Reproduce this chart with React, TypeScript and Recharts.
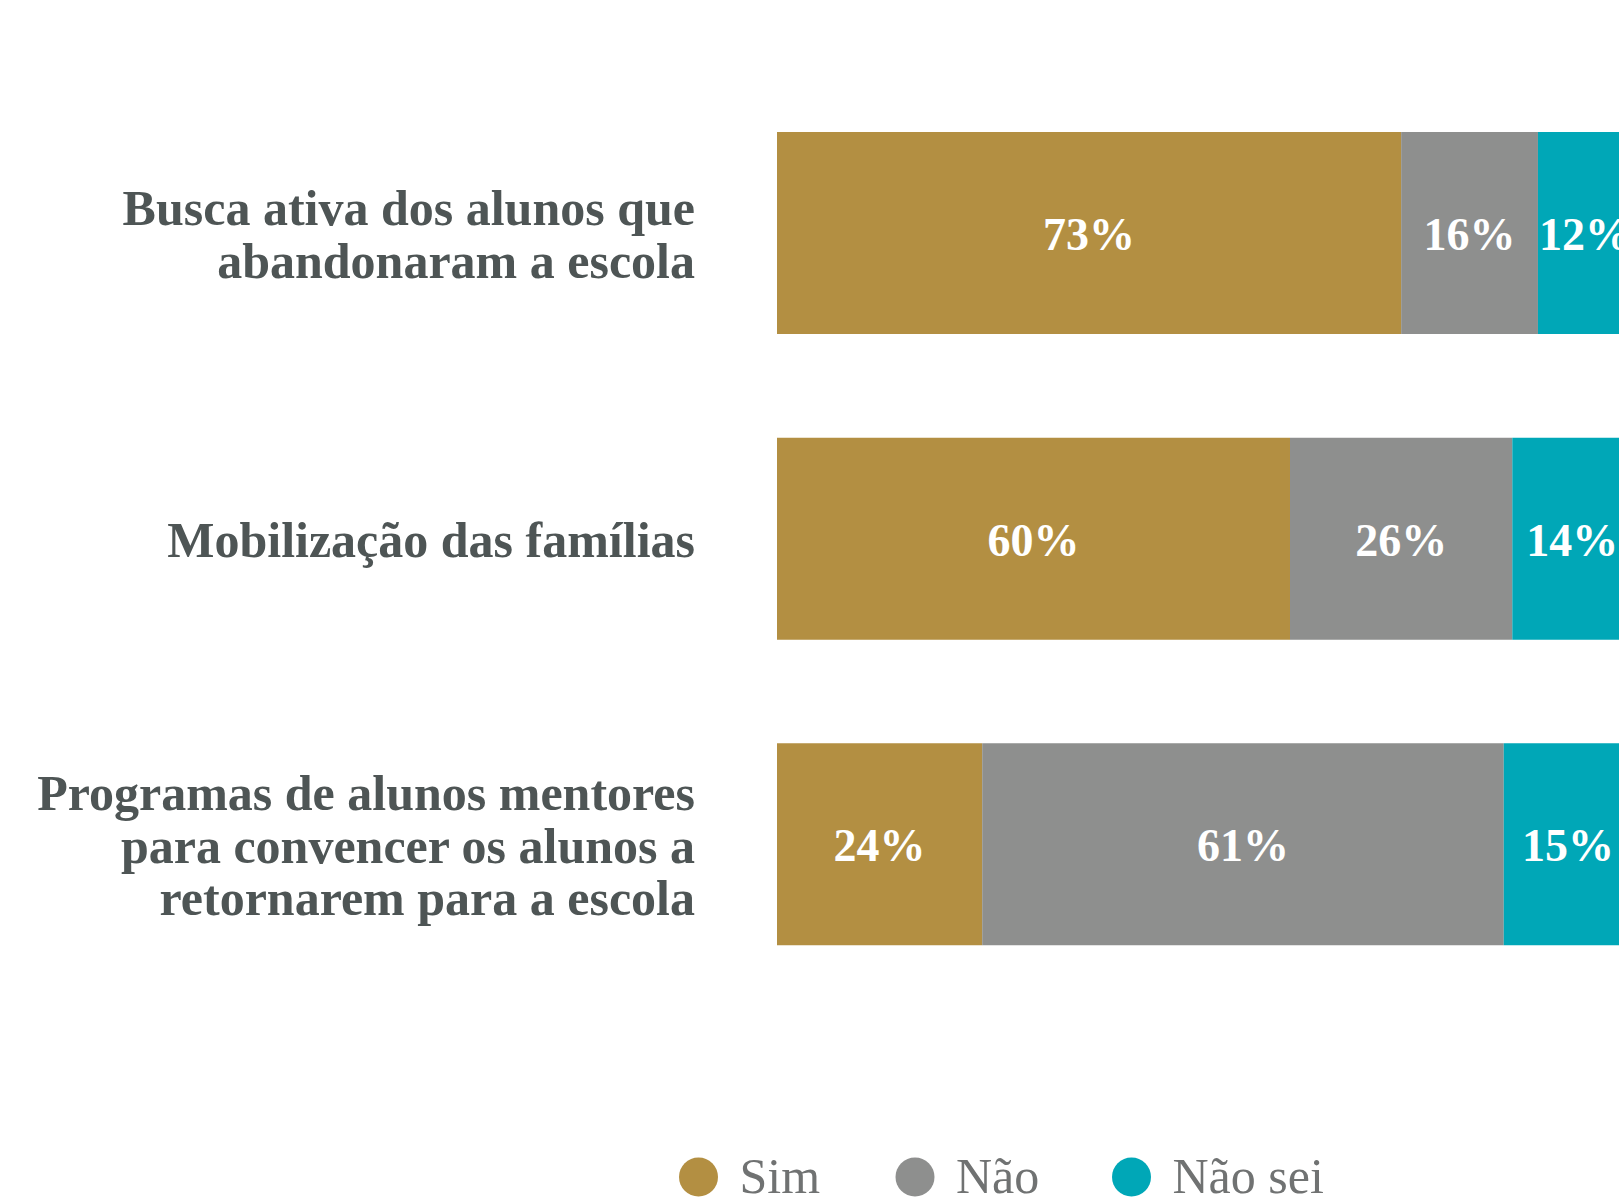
import React from "react";
import { BarChart, Bar, XAxis, YAxis, LabelList, Legend } from "recharts";

const categories = [
  "Busca ativa dos alunos que\nabandonaram a escola",
  "Mobilização das famílias",
  "Programas de alunos mentores\npara convencer os alunos a\nretornarem para a escola",
];
const simValues = [73, 60, 24];
const naoValues = [16, 26, 61];
const naoSeiValues = [12, 14, 15];

const seriesNames = ["Sim", "Não", "Não sei"];
const seriesColors = ["#B38F42", "#8E8F8E", "#00A7B7"];

const data = categories.map((name, i) => ({
  name,
  sim: simValues[i],
  nao: naoValues[i],
  naoSei: naoSeiValues[i],
}));

const FONT = "'Liberation Serif', 'Times New Roman', serif";

function CategoryTick(props: any) {
  const { x, y, payload } = props;
  const lines = String(payload.value).split("\n");
  const lh = 52.5;
  const start = y - ((lines.length - 1) * lh) / 2 + 18.5;
  return (
    <text
      x={x}
      y={start}
      textAnchor="end"
      fill="#4E5555"
      fontFamily={FONT}
      fontWeight={700}
      fontSize={50}
    >
      {lines.map((l, i) => (
        <tspan key={i} x={x} y={start + i * lh}>
          {l}
        </tspan>
      ))}
    </text>
  );
}

function PctLabel(props: any) {
  const { x, y, width, height, value } = props;
  return (
    <text
      x={x + width / 2}
      y={y + height / 2 + 17}
      textAnchor="middle"
      fill="#FFFFFF"
      fontFamily={FONT}
      fontWeight={700}
      fontSize={46}
    >
      {value}%
    </text>
  );
}

function LegendContent() {
  const step = 216.5;
  return (
    <svg width={720} height={46} style={{ overflow: "visible" }}>
      {seriesNames.map((n, i) => (
        <g key={n}>
          <circle cx={19.5 + i * step} cy={20} r={19.5} fill={seriesColors[i]} />
          <text
            x={19.5 + i * step + 41}
            y={36}
            fill="#707272"
            fontFamily={FONT}
            fontSize={50}
          >
            {n}
          </text>
        </g>
      ))}
    </svg>
  );
}

export default function App() {
  return (
    <div style={{ width: 1619, height: 1204, overflow: "hidden", position: "relative", background: "#fff" }}>
      <style>{`body{margin:0;overflow:hidden;}`}</style>
      <BarChart
        width={1632}
        height={1204}
        data={data}
        layout="vertical"
        margin={{ top: 80, right: 0, bottom: 207, left: 0 }}
      >
        <XAxis type="number" domain={[0, 100]} allowDataOverflow hide />
        <YAxis
          type="category"
          dataKey="name"
          width={777}
          axisLine={false}
          tickLine={false}
          tickSize={0}
          tickMargin={82}
          tick={<CategoryTick />}
          interval={0}
        />
        <Legend
          layout="horizontal"
          verticalAlign="middle"
          content={<LegendContent />}
          wrapperStyle={{ position: "absolute", left: 678.5, top: 1157, width: 720, height: 46 }}
        />
        <Bar dataKey="sim" name="Sim" stackId="a" fill={seriesColors[0]} barSize={202} isAnimationActive={false}>
          <LabelList dataKey="sim" content={<PctLabel />} />
        </Bar>
        <Bar dataKey="nao" name="Não" stackId="a" fill={seriesColors[1]} barSize={202} isAnimationActive={false}>
          <LabelList dataKey="nao" content={<PctLabel />} />
        </Bar>
        <Bar dataKey="naoSei" name="Não sei" stackId="a" fill={seriesColors[2]} barSize={202} isAnimationActive={false}>
          <LabelList dataKey="naoSei" content={<PctLabel />} />
        </Bar>
      </BarChart>
    </div>
  );
}
